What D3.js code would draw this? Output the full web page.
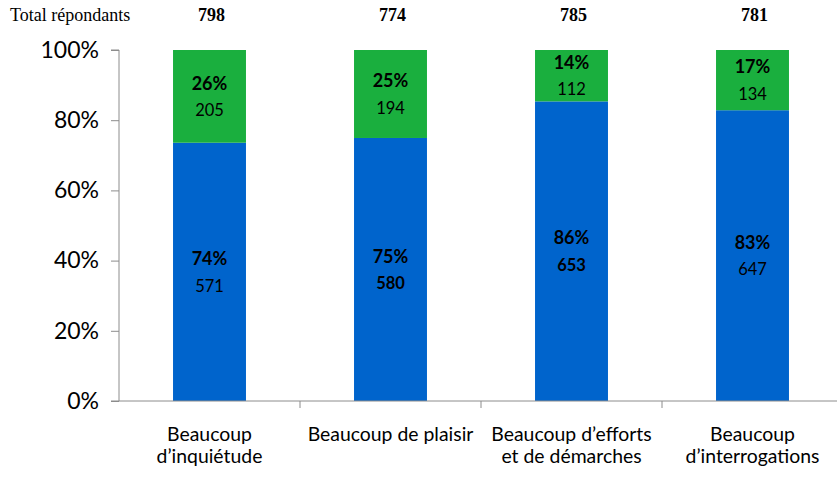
<!DOCTYPE html>
<html>
<head>
<meta charset="utf-8">
<script src="https://cdn.jsdelivr.net/npm/d3@7"></script>
<style>
  html, body { margin: 0; padding: 0; background: #fff; }
  svg { display: block; }
</style>
</head>
<body>
<svg id="chart" width="837" height="477"></svg>
<script>
// ---- data ----
const categories = [
  ["Beaucoup", "d\u2019inquiétude"],
  ["Beaucoup de plaisir"],
  ["Beaucoup d\u2019efforts", "et de démarches"],
  ["Beaucoup", "d\u2019interrogations"]
];
const totals = [798, 774, 785, 781];
const blueCounts = [571, 580, 653, 647];
const greenCounts = [205, 194, 112, 134];
const bluePctLabels = ["74%", "75%", "86%", "83%"];
const greenPctLabels = ["26%", "25%", "14%", "17%"];
const yTicks = [0, 0.2, 0.4, 0.6, 0.8, 1.0];
const headerLabel = "Total répondants";

// ---- style ----
const blue = "#0064CC";
const green = "#1AAF3E";
const axisColor = "#8c8c8c";
const sans = "Lato, 'Open Sans', sans-serif";
const serif = "'Liberation Serif', 'Times New Roman', serif";
const boldCountIdx = new Set([1, 2]);

const svg = d3.select("#chart");
const x0 = 119, x1 = 843, yTop = 50, yBottom = 401;

const keys = categories.map((c, i) => "c" + i);
const x = d3.scaleBand().domain(keys).range([x0, x1]).paddingInner(0.597).paddingOuter(0.2985);
const y = d3.scaleLinear().domain([0, 1]).range([yBottom, yTop]);

const rows = keys.map((k, i) => {
  const sum = blueCounts[i] + greenCounts[i];
  return { k, i, b: blueCounts[i] / sum, g: greenCounts[i] / sum };
});

// bars
const gBars = svg.append("g");
gBars.selectAll("rect.blue").data(rows).join("rect")
  .attr("x", d => x(d.k)).attr("width", x.bandwidth())
  .attr("y", d => y(d.b)).attr("height", d => y(0) - y(d.b))
  .attr("fill", blue);
gBars.selectAll("rect.green").data(rows).join("rect")
  .attr("x", d => x(d.k)).attr("width", x.bandwidth())
  .attr("y", d => y(d.b + d.g)).attr("height", d => y(d.b) - y(d.b + d.g))
  .attr("fill", green);

// y axis
const yAxis = d3.axisLeft(y).tickValues(yTicks).tickFormat(d3.format(".0%")).tickSize(8).tickPadding(12);
const gy = svg.append("g").attr("transform", `translate(${x0},0)`).call(yAxis);
gy.select(".domain").attr("stroke", axisColor).attr("d", `M-8,${yTop}H0V${yBottom}H-8`);
gy.selectAll(".tick line").attr("stroke", axisColor);
gy.selectAll(".tick text").attr("font-family", sans).attr("font-size", 23).attr("fill", "#000");

// x axis line and separator ticks
svg.append("line").attr("x1", x0).attr("x2", 837).attr("y1", yBottom).attr("y2", yBottom).attr("stroke", axisColor);
const step = x.step();
svg.selectAll("line.sep").data(d3.range(1, keys.length)).join("line")
  .attr("x1", i => x0 + step * i).attr("x2", i => x0 + step * i)
  .attr("y1", yBottom).attr("y2", yBottom + 7).attr("stroke", axisColor);

// category labels
const cx = k => x(k) + x.bandwidth() / 2;
svg.selectAll("text.cat").data(rows).join("text")
  .attr("text-anchor", "middle").attr("font-family", sans).attr("font-size", 19.4).attr("fill", "#000")
  .each(function(d) {
    const t = d3.select(this);
    categories[d.i].forEach((line, j) => {
      t.append("tspan").attr("x", cx(d.k)).attr("y", 441 + j * 22).text(line);
    });
  });

// header
svg.append("text").attr("x", 10).attr("y", 21).attr("font-family", serif).attr("font-size", 18).attr("fill", "#000").text(headerLabel);
svg.selectAll("text.tot").data(rows).join("text")
  .attr("x", d => cx(d.k) + 2).attr("y", 21).attr("text-anchor", "middle")
  .attr("font-family", serif).attr("font-size", 18).attr("font-weight", "bold").attr("fill", "#000")
  .text(d => totals[d.i]);

// value labels
rows.forEach(d => {
  const segs = [
    { mid: (y(0) + y(d.b)) / 2, pct: bluePctLabels[d.i], cnt: blueCounts[d.i], boldCnt: boldCountIdx.has(d.i) },
    { mid: (y(d.b) + y(d.b + d.g)) / 2, pct: greenPctLabels[d.i], cnt: greenCounts[d.i], boldCnt: false }
  ];
  segs.forEach(s => {
    svg.append("text").attr("x", cx(d.k)).attr("y", s.mid - 13).attr("dy", "0.35em")
      .attr("text-anchor", "middle").attr("font-family", sans).attr("font-size", 18).attr("font-weight", "bold")
      .attr("fill", "#000").text(s.pct);
    svg.append("text").attr("x", cx(d.k)).attr("y", s.mid + 14).attr("dy", "0.35em")
      .attr("text-anchor", "middle").attr("font-family", sans).attr("font-size", 16.5)
      .attr("font-weight", s.boldCnt ? "bold" : "normal")
      .attr("fill", "#000").text(s.cnt);
  });
});
</script>
</body>
</html>
